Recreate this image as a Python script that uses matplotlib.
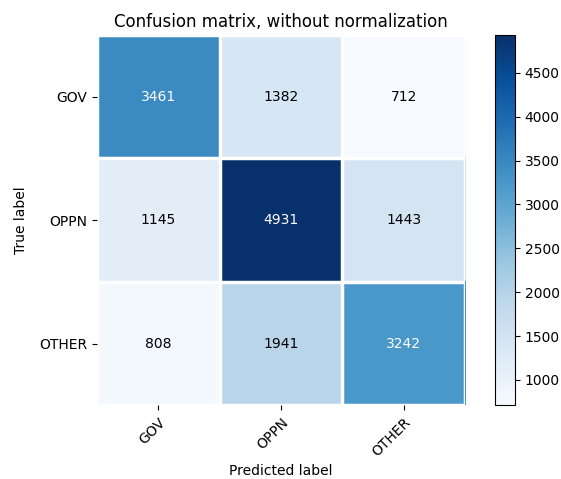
import numpy as np
import matplotlib
matplotlib.use("Agg")
import matplotlib.pyplot as plt

classes = ["GOV", "OPPN", "OTHER"]
row_gov = [3461, 1382, 712]
row_oppn = [1145, 4931, 1443]
row_other = [808, 1941, 3242]
title = "Confusion matrix, without normalization"

cm = np.array([row_gov, row_oppn, row_other])

fig = plt.figure(figsize=(5.61, 4.79), dpi=100)
ax = fig.add_axes([0.173, 0.154, 0.656, 0.773])
cax = fig.add_axes([0.882, 0.154, 0.036, 0.773])

im = ax.imshow(cm, interpolation="nearest", cmap=plt.cm.Blues, aspect="auto")
cb = fig.colorbar(im, cax=cax)
cb.set_ticks([1000, 1500, 2000, 2500, 3000, 3500, 4000, 4500])

ax.set_title(title, fontsize=12)
ticks = np.arange(len(classes))
ax.set_xticks(ticks)
ax.set_xticklabels(classes, rotation=45, ha="right", rotation_mode="anchor")
ax.set_yticks(ticks)
ax.set_yticklabels(classes)

ax.set_xticks(np.arange(-0.5, len(classes), 1), minor=True)
ax.set_yticks(np.arange(-0.5, len(classes), 1), minor=True)
ax.grid(which="minor", color="white", linestyle="-", linewidth=2.5)
ax.tick_params(which="minor", length=0)
for s in ax.spines.values():
    s.set_visible(False)

thresh = cm.max() / 2.0
for i in range(cm.shape[0]):
    for j in range(cm.shape[1]):
        ax.text(j, i, format(cm[i, j], "d"), ha="center", va="center",
                color="white" if cm[i, j] > thresh else "black")

ax.set_ylabel("True label", labelpad=8)
ax.set_xlabel("Predicted label")

fig.savefig("out.png", dpi=100)
